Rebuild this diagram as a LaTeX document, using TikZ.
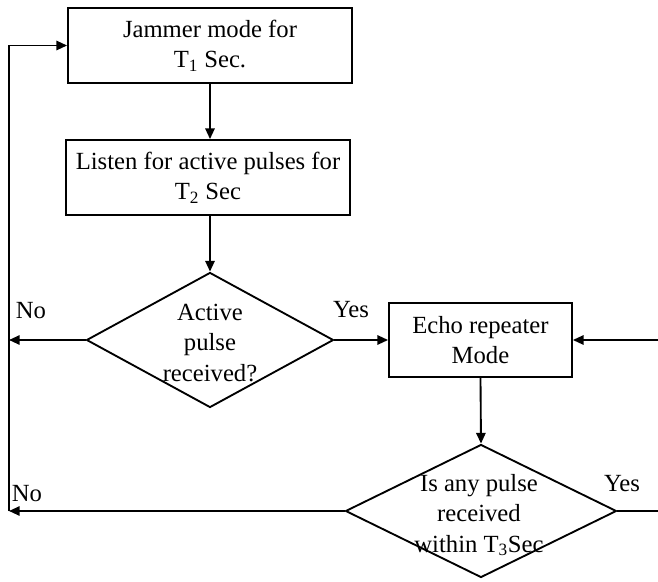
\documentclass[tikz,border=0pt]{standalone}
\usepackage{fontspec}
\setmainfont{Liberation Serif}
\usetikzlibrary{shapes.geometric,arrows.meta}

\begin{document}
\begin{tikzpicture}[x=0.75pt,y=-0.75pt,
  every node/.style={font=\fontsize{18.5}{23}\selectfont},
  block/.style={draw,line width=1.4pt,align=center,inner sep=0pt},
  decision/.style={draw,diamond,line width=1.4pt,inner sep=0pt},
  flow/.style={line width=1.4pt,-{Triangle[length=8pt,width=7pt]}}]
  \useasboundingbox (0,0) rectangle (658,582);
  % boxes and decisions
  \node[block,minimum width=213pt,minimum height=56.25pt] (jammer) at (210,45.5) {Jammer mode for\\T\textsubscript{1} Sec.};
  \node[block,minimum width=213pt,minimum height=56.25pt] (listen) at (208,177.5) {Listen for active pulses for\\T\textsubscript{2} Sec};
  \node[decision,minimum width=185.25pt,minimum height=101.25pt] (active) at (210,340) {};
  \node[align=center] (activetxt) at (210,343) {Active\\pulse\\received?};
  \node[block,minimum width=137.25pt,minimum height=55.5pt] (echo) at (480.5,340) {Echo repeater\\Mode};
  \node[decision,minimum width=203.25pt,minimum height=99.75pt] (any) at (481,511) {};
  \node[align=center] (anytxt) at (479,515) {Is any pulse\\received\\within T\textsubscript{3}Sec};
  % labels
  \node (no1) at (31,311) {No};
  \node (yes1) at (351,310) {Yes};
  \node (no2) at (27,494) {No};
  \node (yes2) at (622,484) {Yes};
  % loop and edge points
  \coordinate (loop) at (9,511);
  \coordinate (right1) at (658,340);
  \coordinate (right2) at (658,511);
  % connectors
  \draw[flow] (jammer.south) -- (jammer.south |- listen.north);
  \draw[flow] (jammer.south |- listen.south) -- (active.north);
  \draw[flow] (active.east) -- (echo.west);
  \draw[flow] (active.west) -- (active.west -| loop);
  \draw[flow] (echo.south) -- (any.north);
  \draw[flow] (any.west) -- (loop);
  \draw[flow] (loop) -- (loop |- jammer.west) -- (jammer.west);
  \draw[flow] (right1) -- (echo.east);
  \draw[line width=1.4pt] (any.east) -- (right2);
\end{tikzpicture}
\end{document}
